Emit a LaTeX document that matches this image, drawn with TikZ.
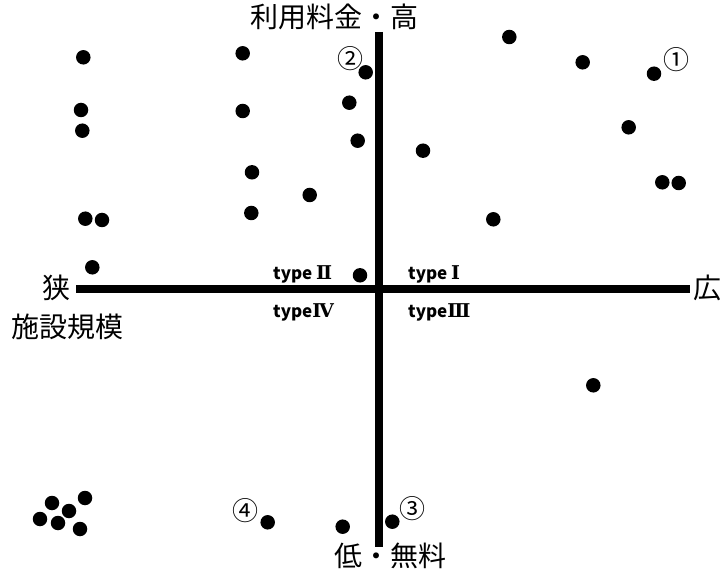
\documentclass[tikz,border=0pt]{standalone}
\usepackage{fontspec}
\setmainfont{Noto Sans CJK JP}
\newfontfamily\romfont{DejaVu Serif}
\usepackage{tikz}
\usetikzlibrary{positioning}

\begin{document}
\begin{tikzpicture}[
    x=1pt, y=-1pt,
    dot/.style={circle, fill=black, inner sep=0pt, minimum size=14.5pt},
    axis/.style={line width=7.5pt},
    lab/.style={inner sep=0pt, font=\fontsize{28}{32}\selectfont},
    typelab/.style={inner sep=0pt, anchor=west, font=\bfseries\fontsize{17}{20}\selectfont},
    num/.style={inner sep=0pt, font=\fontsize{26}{30}\selectfont}
]
    \useasboundingbox (0,0) rectangle (721,575);

    % Axes
    \coordinate (l) at (76,289);
    \coordinate (r) at (690,289);
    \coordinate (t) at (379,32);
    \coordinate (b) at (379,547);
    \draw[axis] (l) -- (r);
    \draw[axis] (t) -- (b);

    % Axis labels
    \node[lab] (high) at (334.5,17) {利用料金・高};
    \node[lab] (low) at (390,556) {低・無料};
    \node[lab] (narrow) at (56,288) {狭};
    \node[lab] (wide) at (707,288) {広};
    \node[lab] (scale) at (68,327) {施設規模};

    % Quadrant labels
    \node[typelab] (t2) at (273,274) {type {\romfont\fontsize{19}{20}\selectfont Ⅱ}};
    \node[typelab] (t1) at (408,274) {type {\romfont\fontsize{19}{20}\selectfont Ⅰ}};
    \node[typelab] (t4) at (273,312) {type{\romfont\fontsize{19}{20}\selectfont Ⅳ}};
    \node[typelab] (t3) at (408,312) {type{\romfont\fontsize{19}{20}\selectfont Ⅲ}};

    % Facilities, upper left
    \node[dot] (a1) at (83.3,57.3) {};
    \node[dot] (a2) at (81,110) {};
    \node[dot] (a3) at (82.3,130.7) {};
    \node[dot] (a4) at (85.3,218.7) {};
    \node[dot] (a5) at (102,220) {};
    \node[dot] (a6) at (92.3,267.3) {};
    \node[dot] (a7) at (242.7,53.3) {};
    \node[dot] (a8) at (242.7,111) {};
    \node[dot] (a9) at (252,172.3) {};
    \node[dot] (a10) at (251.3,213) {};
    \node[dot] (a11) at (309.7,195) {};
    \node[dot] (a12) at (365.7,72.3) {};
    \node[dot] (a13) at (349.3,102.7) {};
    \node[dot] (a14) at (357.7,140.7) {};
    \node[dot] (a15) at (360,275.3) {};

    % Facilities, upper right
    \node[dot] (b1) at (509.3,37) {};
    \node[dot] (b2) at (582.7,62.3) {};
    \node[dot] (b3) at (654,73.7) {};
    \node[dot] (b4) at (628.7,127.3) {};
    \node[dot] (b5) at (423,150.7) {};
    \node[dot] (b6) at (662.3,182.3) {};
    \node[dot] (b7) at (678.7,183) {};
    \node[dot] (b8) at (493.3,219.3) {};

    % Facilities, lower half
    \node[dot] (c1) at (593.3,385.3) {};
    \node[dot] (c2) at (392.3,521.7) {};
    \node[dot] (c3) at (267.7,522.3) {};
    \node[dot] (c4) at (342.7,526.7) {};
    \node[dot] (c5) at (85,498) {};
    \node[dot] (c6) at (52,503) {};
    \node[dot] (c7) at (69,511) {};
    \node[dot] (c8) at (40,519) {};
    \node[dot] (c9) at (58,523) {};
    \node[dot] (c10) at (80,529) {};

    % Numbered examples
    \node[num] (n1) at (676,59.5) {①};
    \node[num] (n2) at (350,58.3) {②};
    \node[num] (n3) at (412.7,508.3) {③};
    \node[num] (n4) at (245,510.7) {④};

\end{tikzpicture}
\end{document}
